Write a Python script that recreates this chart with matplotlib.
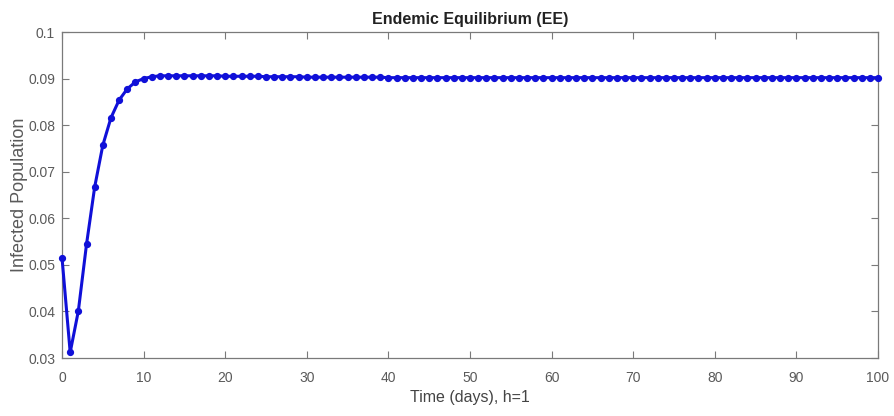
import matplotlib
matplotlib.use("Agg")
import matplotlib.pyplot as plt

plt.rcParams['font.family'] = ['Liberation Sans', 'DejaVu Sans']

time_days = list(range(0, 101))
infected = [
    0.0515, 0.0312, 0.0401, 0.0544, 0.0667, 0.0757, 0.0816, 0.0854, 0.0878, 0.0893,
    0.0900, 0.0904, 0.0906, 0.0906, 0.0906, 0.0906, 0.0906, 0.0906, 0.0906, 0.0906,
    0.0905, 0.0905, 0.0905, 0.0905, 0.0905, 0.0904, 0.0904, 0.0904, 0.0904, 0.0904,
    0.0903, 0.0903, 0.0903, 0.0903, 0.0903, 0.0903, 0.0903, 0.0903, 0.0903, 0.0903,
    0.0902, 0.0902, 0.0902, 0.0902, 0.0902, 0.0902, 0.0902, 0.0902, 0.0902, 0.0902,
    0.0902, 0.0902, 0.0902, 0.0902, 0.0902, 0.0902, 0.0902, 0.0902, 0.0902, 0.0902,
    0.0902, 0.0902, 0.0902, 0.0902, 0.0902, 0.0902, 0.0902, 0.0902, 0.0902, 0.0902,
    0.0902, 0.0902, 0.0902, 0.0902, 0.0902, 0.0902, 0.0902, 0.0902, 0.0902, 0.0902,
    0.0902, 0.0902, 0.0902, 0.0902, 0.0902, 0.0902, 0.0902, 0.0902, 0.0902, 0.0902,
    0.0902, 0.0902, 0.0902, 0.0902, 0.0902, 0.0902, 0.0902, 0.0902, 0.0902, 0.0902,
    0.0902,
]
x_ticks = [0, 10, 20, 30, 40, 50, 60, 70, 80, 90, 100]
y_ticks = [0.03, 0.04, 0.05, 0.06, 0.07, 0.08, 0.09, 0.1]
y_tick_labels = ['0.03', '0.04', '0.05', '0.06', '0.07', '0.08', '0.09', '0.1']

fig = plt.figure(figsize=(8.95, 4.16), dpi=100)
ax = fig.add_axes([0.0693, 0.1394, 0.9117, 0.7836])

ax.plot(time_days, infected, color='#1010d8', linewidth=2.2, marker='o',
        markersize=4.2, markerfacecolor='#1010d8', markeredgecolor='#1010d8',
        clip_on=False, zorder=3)

ax.set_xlim(0, 100)
ax.set_ylim(0.03, 0.1)
ax.set_xticks(x_ticks)
ax.set_xticklabels([str(t) for t in x_ticks])
ax.set_yticks(y_ticks)
ax.set_yticklabels(y_tick_labels)

for s in ax.spines.values():
    s.set_color('#7a7a7a')
    s.set_linewidth(0.9)
ax.tick_params(direction='in', length=5, width=0.8, color='#7a7a7a',
               labelcolor='#5a5a5a', labelsize=10, top=True, right=True)
ax.tick_params(axis='x', pad=9)
ax.tick_params(axis='y', pad=5)

ax.set_title('Endemic Equilibrium (EE)', fontsize=11.5, fontweight='bold', pad=6,
             color='#222222')
ax.set_xlabel('Time (days), h=1', fontsize=11.5, color='#444444', labelpad=4)
ax.set_ylabel('Infected Population', fontsize=13, color='#5a5a5a', labelpad=0)

fig.savefig('out.png', dpi=100)
